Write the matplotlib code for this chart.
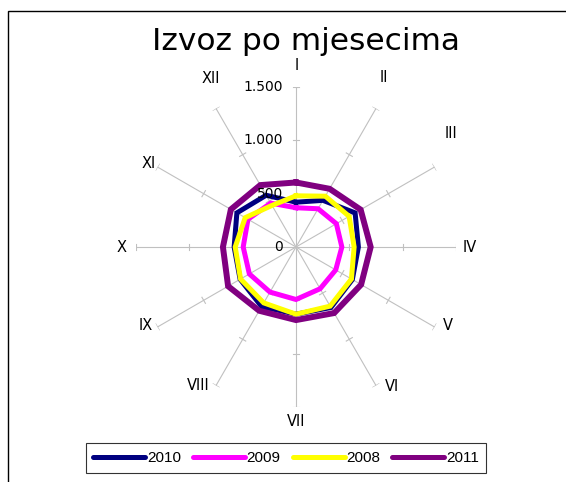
import numpy as np
import matplotlib
matplotlib.use("Agg")
import matplotlib.pyplot as plt
from matplotlib.patches import Rectangle

# months (roman numerals), clockwise from the top
months = ["I", "II", "III", "IV", "V", "VI", "VII", "VIII", "IX", "X", "XI", "XII"]

# export per month
izvoz_2010 = [420, 505, 640, 585, 610, 655, 630, 645, 605, 580, 640, 560]
izvoz_2009 = [368, 414, 437, 430, 430, 452, 492, 488, 505, 495, 520, 475]
izvoz_2008 = [480, 550, 575, 545, 600, 640, 630, 605, 600, 570, 550, 450]
izvoz_2011 = [605, 630, 700, 700, 705, 715, 685, 690, 735, 685, 705, 670]

r_ticks = [0, 500, 1000, 1500]
r_tick_labels = ["0", "500", "1.000", "1.500"]

series = [("2010", izvoz_2010, "#000080", 3.6),
          ("2009", izvoz_2009, "#FF00FF", 3.6),
          ("2008", izvoz_2008, "#FFFF00", 3.6),
          ("2011", izvoz_2011, "#800080", 4.3)]

W, H = 566, 482
cx, cy, R = 296, 247, 160   # centre and radius of the plot, pixels

fig = plt.figure(figsize=(W / 100, H / 100), dpi=100)
fig.patch.set_facecolor("white")

# chart area border (only left and top edges are visible)
fig.add_artist(Rectangle((8 / W, -0.1), 1.2, 1.1 - 11 / H, transform=fig.transFigure,
                         fill=False, edgecolor="black", lw=1.0))

ax = fig.add_axes([(cx - R) / W, (H - cy - R) / H, 2 * R / W, 2 * R / H], projection="polar")
ax.set_theta_zero_location("N")
ax.set_theta_direction(-1)
ax.set_ylim(0, 1500)
ax.grid(False)
ax.spines["polar"].set_visible(False)
ax.set_xticks([])
ax.set_yticks([])
ax.patch.set_alpha(0)

theta = np.arange(len(months)) * 2 * np.pi / len(months)

# spokes with small tick marks
px = 1500 / R
for t in theta:
    ax.plot([t, t], [0, 1500], color="#c0c0c0", lw=0.8, zorder=1)
    for r in r_ticks[1:]:
        d = 3.5 * px / r
        ax.plot([t - d, t + d], [r, r], color="#c0c0c0", lw=0.8, zorder=1)

# radial tick labels along the vertical spoke
for r, lab in zip(r_ticks, r_tick_labels):
    ax.annotate(lab, xy=(0, r), xytext=(-13, 0), textcoords="offset pixels",
                ha="right", va="center", fontsize=10, family="DejaVu Sans", zorder=5)

# month labels, offset (pixels) from the end of each spoke
label_off = [(1, 22), (8, 31), (16, 34), (14, 0), (13, 1), (16, -1),
             (0, -15), (-18, 0), (-12, 2), (-14, 0), (-9, 4), (-5, 30)]
for t, m, off in zip(theta, months, label_off):
    ax.annotate(m, xy=(t, 1500), xytext=off, textcoords="offset pixels",
                ha="center", va="center", fontsize=10.5, family="DejaVu Sans",
                annotation_clip=False)

for name, vals, col, lw in series:
    ax.plot(np.append(theta, theta[0]), vals + vals[:1], color=col, lw=lw,
            solid_joinstyle="miter", label=name, zorder=3)

fig.text(306 / W, 1 - 42 / H, "Izvoz po mjesecima", ha="center", va="center",
         fontsize=22.5, family="DejaVu Sans")

leg = fig.legend(loc="center", bbox_to_anchor=(286 / W, 1 - 458 / H), ncol=4,
                 frameon=True, fancybox=False, handlelength=3.4, handletextpad=0.1,
                 columnspacing=0.8, borderpad=0.5, prop={"family": "Liberation Sans", "size": 11})
leg.get_frame().set_edgecolor("black")
leg.get_frame().set_linewidth(0.8)
for line in leg.get_lines():
    line.set_linewidth(3.6)
    line.set_solid_capstyle("round")

fig.savefig("out.png", dpi=100)
